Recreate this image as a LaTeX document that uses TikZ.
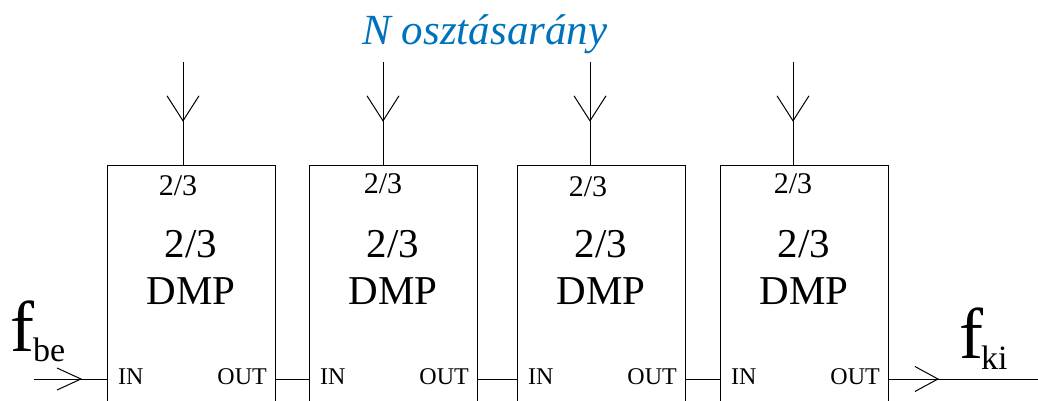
\documentclass[tikz,border=0pt]{standalone}
\usepackage{fontspec}
\setmainfont{Liberation Serif}
\usetikzlibrary{arrows.meta,decorations.markings}
\definecolor{nblue}{RGB}{0,114,188}
\begin{document}
\begin{tikzpicture}[x=1pt,y=-1pt,
  blk/.style={draw,line width=1.1pt,minimum width=168pt,minimum height=250pt,anchor=north west,inner sep=0pt},
  bigtxt/.style={inner sep=0pt,anchor=base,font=\fontsize{41}{41}\selectfont},
  smalltxt/.style={inner sep=0pt,anchor=base,font=\fontsize{30}{30}\selectfont},
  iotxt/.style={inner sep=0pt,font=\fontsize{24}{24}\selectfont},
  ftxt/.style={inner sep=0pt,anchor=base west,font=\fontsize{72}{72}\selectfont},
  subtxt/.style={inner sep=0pt,anchor=base west,font=\fontsize{34}{34}\selectfont},
  wire/.style={line width=1pt},
  barb/.style n args={3}{decoration={markings,mark=at position #1 with {\arrow{Straight Barb[length=#2,width=#3,line width=1pt]}}},postaction=decorate}
]
\useasboundingbox (0,0) rectangle (1038,401);
\clip (0,0) rectangle (1038,401);

% title
\node[inner sep=0pt,anchor=base,text=nblue,font=\fontsize{43}{43}\selectfont\itshape] (title) at (485,45) {N osztásarány};

% boxes
\node[blk] (b1) at (107,165) {};
\node[blk] (b2) at (309,165) {};
\node[blk] (b3) at (517,165) {};
\node[blk] (b4) at (720,165) {};

% control inputs
\coordinate (c1) at (183,62);
\coordinate (c2) at (383,62);
\coordinate (c3) at (590,62);
\coordinate (c4) at (793,62);
\draw[wire,barb={0.58}{25pt}{32pt}] (c1) -- (c1 |- b1.north);
\draw[wire,barb={0.58}{25pt}{32pt}] (c2) -- (c2 |- b2.north);
\draw[wire,barb={0.58}{25pt}{32pt}] (c3) -- (c3 |- b3.north);
\draw[wire,barb={0.58}{25pt}{32pt}] (c4) -- (c4 |- b4.north);

% texts inside boxes
\node[smalltxt] (s1) at (178,195) {2/3};
\node[smalltxt] (s2) at (383,193) {2/3};
\node[smalltxt] (s3) at (588,196) {2/3};
\node[smalltxt] (s4) at (793,193) {2/3};
\foreach \i/\cx in {1/191,2/393,3/601,4/804}{
  \node[bigtxt] (r\i) at (\cx,257) {2/3};
  \node[bigtxt] (d\i) at (\cx,304) {DMP};
}
\foreach \i/\l/\r in {1/118/267,2/320/469,3/528/677,4/731/880}{
  \node[iotxt,anchor=base west] (in\i) at (\l,384) {IN};
  \node[iotxt,anchor=base east] (out\i) at (\r,384) {OUT};
}

% signal path
\coordinate (fin) at (34,379);
\coordinate (fout) at (1038,379);
\coordinate (i1) at (107,379);
\coordinate (o1) at (275,379);
\coordinate (i2) at (309,379);
\coordinate (o2) at (477,379);
\coordinate (i3) at (517,379);
\coordinate (o3) at (685,379);
\coordinate (i4) at (720,379);
\coordinate (o4) at (888,379);
\draw[wire,barb={0.66}{24pt}{22pt}] (fin) -- (i1);
\draw[wire] (o1) -- (i2);
\draw[wire] (o2) -- (i3);
\draw[wire] (o3) -- (i4);
\draw[wire,barb={0.34}{23pt}{25pt}] (o4) -- (fout);

% f labels
\node[ftxt] (fbe) at (10,351) {f};
\node[subtxt] (be) at (33,361) {be};
\node[ftxt] (fki) at (959,358) {f};
\node[subtxt] (ki) at (981,369) {ki};
\end{tikzpicture}
\end{document}
